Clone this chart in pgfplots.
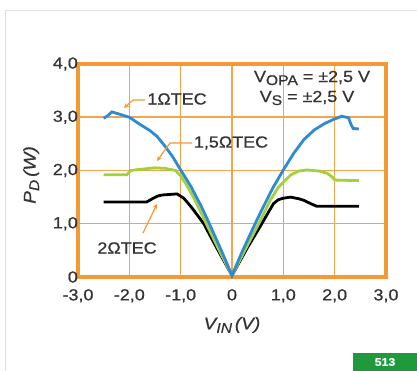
\documentclass[border=0pt]{standalone}
\usepackage{fontspec}
\setmainfont{Liberation Sans}[FakeStretch=1.12, FakeBold=0.6]
\usepackage{pgfplots}
\pgfplotsset{compat=1.18}
\usetikzlibrary{arrows.meta}
\definecolor{gridor}{HTML}{F2A54A}
\definecolor{frameor}{HTML}{F39A35}
\definecolor{cblue}{HTML}{2E8BD3}
\definecolor{cgreen}{HTML}{A3D13A}
\definecolor{txt}{HTML}{333333}
\definecolor{pgreen}{HTML}{1E9A3C}
\begin{document}
\begin{tikzpicture}[x=1pt,y=1pt]
\useasboundingbox (0,0) rectangle (417,371);
\fill[white] (0,0) rectangle (417,371);
\draw[black!12, line width=0.8pt] (5,0) -- (5,361) -- (417,361);
\begin{axis}[at={(78pt,94pt)}, anchor=south west, scale only axis,
  width=308pt, height=213pt,
  xmin=-3, xmax=3, ymin=0, ymax=4,
  xtick={-3,-2,-1,0,1,2,3}, ytick={0,1,2,3,4},
  xticklabels={{-3,0},{-2,0},{-1,0},0,{1,0},{2,0},{3,0}},
  yticklabels={0,{1,0},{2,0},{3,0},{4,0}},
  grid=major, major grid style={gridor, line width=1.5pt},
  axis line style={frameor, line width=3.6pt, line cap=rect},
  major tick length=0pt,
  /pgf/number format/assume math mode=true,
  tick label style={font=\fontsize{16}{16}\selectfont, text=txt},
  xticklabel style={anchor=north, inner sep=0pt, yshift=-12pt},
  yticklabel style={anchor=east, inner sep=0pt, xshift=0pt},
  xlabel={\itshape V\raisebox{-3.5pt}{\fontsize{14}{14}\selectfont IN}\,(V)},
  xlabel style={at={(rel axis cs:0.5,-0.225)}, anchor=center, font=\fontsize{17}{17}\selectfont, text=txt},
  ylabel={\itshape P\raisebox{-3.5pt}{\fontsize{14}{14}\selectfont D}\,(W)},
  ylabel style={at={(rel axis cs:-0.152,0.479)}, anchor=center, rotate=0, font=\fontsize{17}{17}\selectfont, text=txt},
  clip=false]
\addplot[black, line width=2.8pt] coordinates {
(-2.5,1.41)(-1.66,1.41)(-1.55,1.47)(-1.45,1.52)(-1.36,1.54)(-1.07,1.56)(-0.94,1.48)(-0.85,1.38)(-0.75,1.26)(-0.55,1.0)(-0.3,0.55)(0,0.03)(0.3,0.55)(0.58,1.0)(0.7,1.2)(0.81,1.38)(0.9,1.45)(1.0,1.48)(1.14,1.5)(1.3,1.47)(1.4,1.44)(1.55,1.37)(1.65,1.33)(2.47,1.33)};
\addplot[cgreen, line width=2.8pt] coordinates {
(-2.5,1.92)(-2.05,1.92)(-1.97,2.0)(-1.8,2.02)(-1.5,2.05)(-1.3,2.04)(-1.1,2.0)(-1.0,1.9)(-0.9,1.75)(-0.75,1.5)(-0.5,1.0)(-0.25,0.5)(0,0.03)(0.25,0.5)(0.52,1.0)(0.75,1.45)(0.9,1.68)(1.0,1.78)(1.15,1.92)(1.3,1.99)(1.46,2.01)(1.7,1.99)(1.85,1.95)(1.95,1.88)(2.01,1.82)(2.47,1.81)};
\addplot[cblue, line width=2.8pt] coordinates {
(-2.5,2.98)(-2.42,3.03)(-2.34,3.1)(-2.2,3.06)(-2.0,3.0)(-1.8,2.87)(-1.6,2.75)(-1.46,2.64)(-1.3,2.45)(-1.15,2.25)(-1.0,2.01)(-0.8,1.7)(-0.6,1.33)(-0.44,1.0)(-0.2,0.48)(0,0.03)(0.2,0.48)(0.45,1.0)(0.6,1.3)(0.8,1.68)(1.0,2.01)(1.2,2.32)(1.4,2.58)(1.6,2.76)(1.8,2.88)(1.98,2.96)(2.14,3.02)(2.27,2.99)(2.32,2.86)(2.36,2.79)(2.47,2.78)};
\end{axis}
\begin{scope}[font=\fontsize{16}{16}\selectfont, text=txt]
\node at (177,272) {1ΩTEC};
\draw[frameor, line width=1.2pt, -{Stealth[length=5pt,width=5pt]}] (145,271) -- (133,271) -- (124,263);
\node at (231,228) {1,5ΩTEC};
\draw[frameor, line width=1.2pt, -{Stealth[length=5pt,width=5pt]}] (192,228) -- (170,228) -- (157,210);
\node at (127,123) {2ΩTEC};
\draw[frameor, line width=1.2pt, -{Stealth[length=5pt,width=5pt]}] (143,138) -- (157,167);
\node at (312,293) {V\raisebox{-3pt}{\fontsize{14}{14}\selectfont OPA} = ±2,5 V};
\node at (307,273) {V\raisebox{-3pt}{\fontsize{14}{14}\selectfont S} = ±2,5 V};
\end{scope}
\begin{scope}
\clip (353,0) rectangle (417,18);
\fill[pgreen] (353,0) rectangle (417,18);
\node[white, anchor=center, inner sep=0pt, font=\bfseries\fontsize{11}{11}\selectfont] at (385,9) {513};
\end{scope}
\end{tikzpicture}
\end{document}
